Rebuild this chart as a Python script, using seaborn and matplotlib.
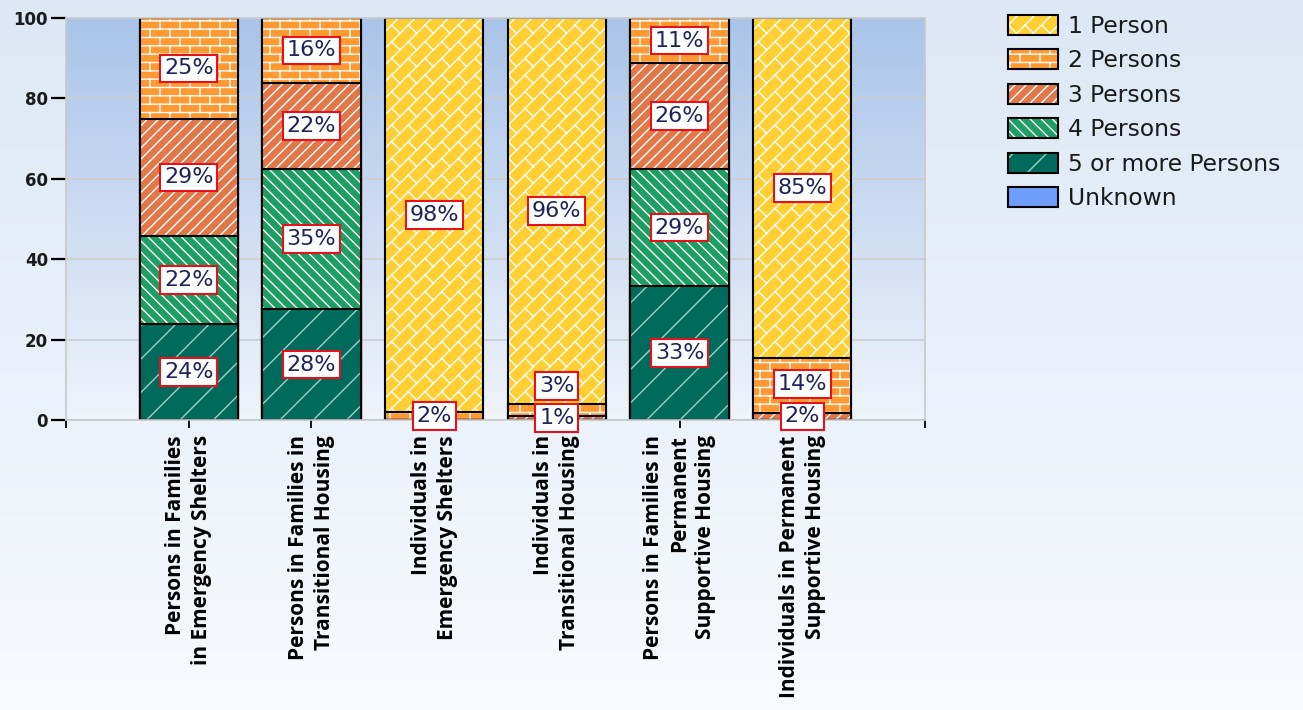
import warnings
warnings.filterwarnings("ignore")
import numpy as np
import matplotlib
matplotlib.use("Agg")
import matplotlib.pyplot as plt
import matplotlib.patches as mpatches
from matplotlib import hatch as mhatch
from matplotlib.path import Path
from matplotlib.colors import to_rgba, LinearSegmentedColormap
import seaborn as sns

# ---------------- data ----------------
categories = [
    "Persons in Families\nin Emergency Shelters",
    "Persons in Families in\nTransitional Housing",
    "Individuals in\nEmergency Shelters",
    "Individuals in\nTransitional Housing",
    "Persons in Families in\nPermanent\nSupportive Housing",
    "Individuals in Permanent\nSupportive Housing",
]
series_names = ["1 Person", "2 Persons", "3 Persons", "4 Persons",
                "5 or more Persons", "Unknown"]
one_person = [0.0, 0.0, 98.0, 96.0, 0.0, 84.6]
two_persons = [25.1, 16.1, 2.0, 3.0, 11.2, 13.6]
three_persons = [29.1, 21.5, 0.0, 1.0, 26.4, 1.8]
four_persons = [21.9, 34.8, 0.0, 0.0, 29.1, 0.0]
five_plus = [23.9, 27.6, 0.0, 0.0, 33.3, 0.0]
unknown = [0.0, 0.0, 0.0, 0.0, 0.0, 0.0]
y_ticks = [0, 20, 40, 60, 80, 100]

# ---------------- custom hatches ----------------
class BrickHatch(mhatch.HatchPatternBase):
    def __init__(self, hatch, density):
        k = hatch.count('b')
        self.rows = 12 * k
        self.cols = 5 * k
        self.segs = self._build() if k else []
        self.num_lines = len(self.segs)
        self.num_vertices = self.num_lines * 2

    def _build(self):
        segs = []
        h = 1.0 / self.rows
        w = 1.0 / self.cols
        for r in range(-1, self.rows + 1):
            y = r * h + h / 2
            segs.append(((-0.1, y), (1.1, y)))
            off = (r % 2) * w / 2
            for c in range(-1, self.cols + 1):
                x = c * w + off
                segs.append(((x, y), (x, y + h)))
        return segs

    def set_vertices_and_codes(self, vertices, codes):
        arr = np.array(self.segs, dtype=float).reshape(-1, 2)
        vertices[:] = arr
        codes[0::2] = Path.MOVETO
        codes[1::2] = Path.LINETO


class DiagBrickHatch(mhatch.HatchPatternBase):
    def __init__(self, hatch, density):
        k = hatch.count('d')
        self.n = 6 * k
        self.m = 3 * k
        self.segs = self._build() if k else []
        self.num_lines = len(self.segs)
        self.num_vertices = self.num_lines * 2

    def _build(self):
        segs = []
        n, m = self.n, self.m
        def xy(u, v):
            return ((u - v) / 2.0, (u + v) / 2.0)
        for r in range(-n - 1, n + 2):
            v = r / n
            segs.append((xy(-0.2, v), xy(2.2, v)))
        for r in range(-n - 1, n + 1):
            v0, v1 = r / n, (r + 1) / n
            off = (r % 2) / (2.0 * m)
            for j in range(-1, 2 * m + 2):
                u = j / m + off
                segs.append((xy(u, v0), xy(u, v1)))
        return segs

    def set_vertices_and_codes(self, vertices, codes):
        arr = np.array(self.segs, dtype=float).reshape(-1, 2)
        vertices[:] = arr
        codes[0::2] = Path.MOVETO
        codes[1::2] = Path.LINETO


mhatch._hatch_types.append(BrickHatch)
mhatch._hatch_types.append(DiagBrickHatch)


def set_hatch_col(p, col):
    if hasattr(p, "set_hatchcolor"):
        try:
            p.set_hatchcolor(col)
            return
        except Exception:
            pass
    p._hatch_color = to_rgba(col)


# ---------------- styling ----------------
sns.set_theme(style="white")
plt.rcParams['font.family'] = ['DejaVu Sans']
plt.rcParams['hatch.linewidth'] = 1.0

face_colors = ["#FFCF33", "#FF9A33", "#E2784A", "#1E9E62", "#006B5C", "#6F9DFA"]
hatches = ["d", "b", "///", "\\\\\\", "/", ""]
hatch_cols = ["white", "white", "white", "white", "#9CCFC6", "white"]

W, H = 1303, 710
fig = plt.figure(figsize=(W / 100, H / 100), dpi=100)

# figure background gradient
bg = fig.add_axes([0, 0, 1, 1], zorder=-10)
bg_cmap = LinearSegmentedColormap.from_list("bg", ["#F7FAFE", "#DDE7F5"])
bg.imshow(np.linspace(0, 1, 256).reshape(-1, 1), aspect="auto", cmap=bg_cmap,
          origin="lower", extent=(0, 1, 0, 1))
bg.set_axis_off()

ax = fig.add_axes([66 / W, 1 - 420 / H, (925 - 66) / W, (420 - 18) / H])
ax.set_facecolor("none")

# stacked layers: cumulative, drawn from the top down
layers_bottom_up = [unknown, five_plus, four_persons, three_persons, two_persons, one_person]
idx_bottom_up = [5, 4, 3, 2, 1, 0]
cums = np.cumsum(np.array(layers_bottom_up, dtype=float), axis=0)

for li in range(len(layers_bottom_up) - 1, -1, -1):
    si = idx_bottom_up[li]
    n_before = len(ax.patches)
    sns.barplot(x=categories, y=cums[li], color=face_colors[si], saturation=1,
                width=0.8, edgecolor="black", linewidth=1.5, errorbar=None,
                ax=ax, zorder=2)
    for p in ax.patches[n_before:]:
        p.set_hatch(hatches[si])
        p.set_edgecolor("black")
        set_hatch_col(p, hatch_cols[si])

# plot-area gradient
pa_cmap = LinearSegmentedColormap.from_list("pa", ["#F0F4FB", "#A9C4E9"])
ax.imshow(np.linspace(0, 1, 256).reshape(-1, 1), aspect="auto", cmap=pa_cmap,
          origin="lower", extent=(-1, 6, 0, 100), zorder=0)

ax.set_xlim(-1, 6)
ax.set_ylim(0, 100)
ax.set_yticks(y_ticks)
ax.set_yticklabels([str(t) for t in y_ticks], fontsize=12, fontweight="bold",
                   color="#1a1a1a")
ax.set_xticks(range(len(categories)))
ax.set_xticks([-1, 6], minor=True)
ax.set_xticklabels(categories, rotation=90, ha="center", va="top",
                   multialignment="right", fontsize=15, fontweight="bold",
                   family="Open Sans", linespacing=1.3, color="black")
ax.tick_params(axis="y", direction="out", length=11, width=1.6, color="black",
               left=True, pad=2)
ax.tick_params(axis="x", which="both", direction="out", length=6, width=1.3,
               color="black", bottom=True, pad=5)
ax.set_xlabel("")
ax.set_ylabel("")
ax.set_axisbelow(True)
ax.yaxis.grid(True, color="#CDCDCD", linewidth=1.2, zorder=0.5)
ax.xaxis.grid(False)
for s in ax.spines.values():
    s.set_color("#C8C8C8")
    s.set_linewidth(1.2)

# percentage labels
series_bottom_up = [five_plus, four_persons, three_persons, two_persons, one_person]
min_gap = 8.0
for b in range(len(categories)):
    base = 0.0
    last = -100.0
    for ser in series_bottom_up:
        v = ser[b]
        if v > 0:
            c = base + v / 2.0
            yl = max(c, last + min_gap)
            ax.text(b, yl, f"{v:.0f}%", ha="center", va="center", fontsize=16,
                    color="#1F2458", zorder=10,
                    bbox=dict(boxstyle="square,pad=0.17", fc="white",
                              ec="#E5121B", lw=1.5))
            last = yl
        base += v

# legend
handles = []
for i, name in enumerate(series_names):
    p = mpatches.Patch(facecolor=face_colors[i], edgecolor="black",
                       hatch=hatches[i], linewidth=1.5, label=name)
    set_hatch_col(p, hatch_cols[i])
    handles.append(p)
leg = fig.legend(handles=handles, loc="upper left",
                 bbox_to_anchor=(1008 / W, 1 - 15 / H), frameon=False,
                 fontsize=16.8, handlelength=2.14, handleheight=0.94,
                 handletextpad=0.45, labelspacing=0.49, borderpad=0,
                 borderaxespad=0)
for lp, i in zip(leg.get_patches(), range(len(series_names))):
    lp.set_hatch(hatches[i])
    lp.set_edgecolor("black")
    set_hatch_col(lp, hatch_cols[i])
for t in leg.get_texts():
    t.set_color("#1a1a1a")

fig.savefig("out.png", dpi=100)
